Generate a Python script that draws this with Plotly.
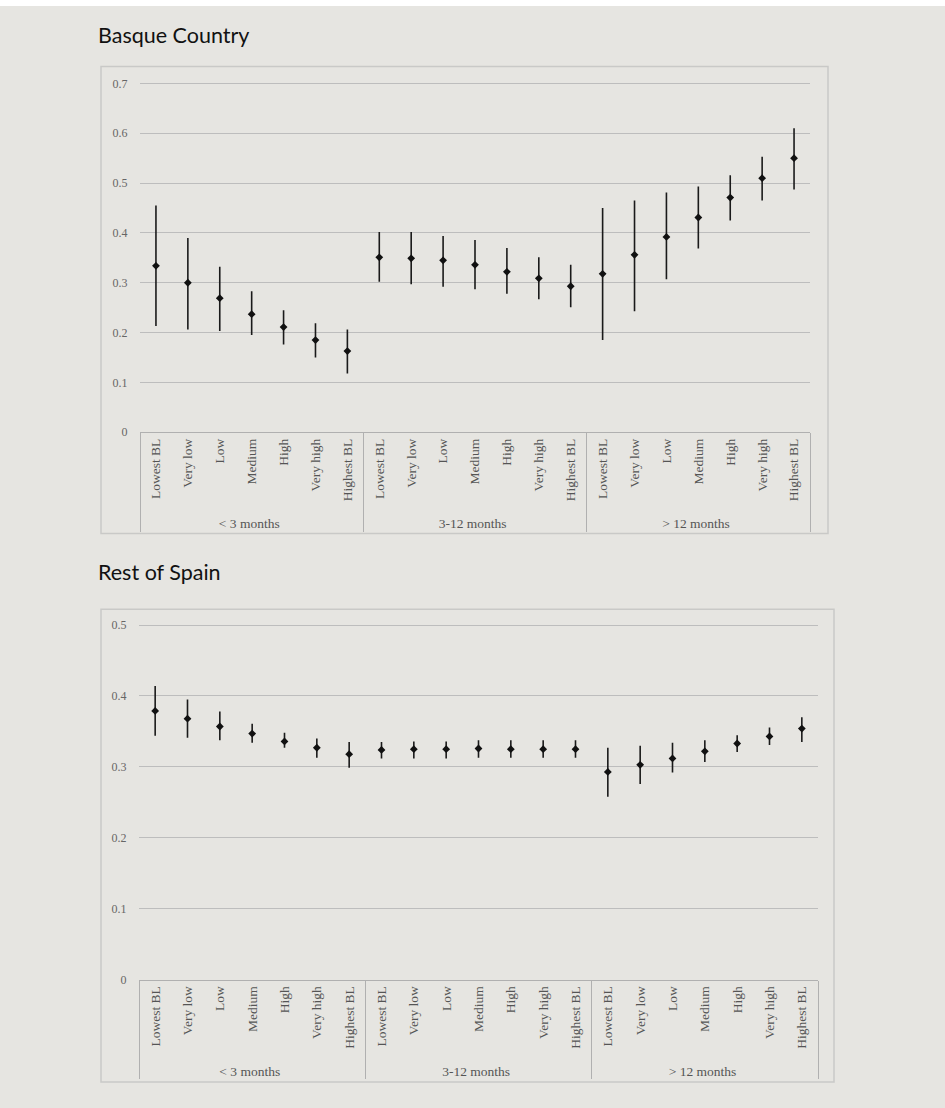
import plotly.graph_objects as go

groups = ["< 3 months", "3-12 months", "> 12 months"]
levels = ["Lowest BL", "Very low", "Low", "Medium", "High", "Very high", "Highest BL"]

# Basque Country: point estimates and 95% CI bounds
basque_est = [0.334, 0.300, 0.269, 0.237, 0.211, 0.185, 0.163,
              0.351, 0.349, 0.345, 0.336, 0.322, 0.309, 0.293,
              0.318, 0.356, 0.392, 0.431, 0.471, 0.510, 0.550]
basque_hi = [0.455, 0.390, 0.332, 0.283, 0.245, 0.219, 0.206,
             0.402, 0.402, 0.394, 0.386, 0.370, 0.351, 0.336,
             0.450, 0.465, 0.481, 0.493, 0.516, 0.553, 0.610]
basque_lo = [0.213, 0.206, 0.203, 0.195, 0.176, 0.150, 0.118,
             0.302, 0.297, 0.292, 0.287, 0.278, 0.267, 0.251,
             0.185, 0.243, 0.307, 0.369, 0.425, 0.465, 0.487]

# Rest of Spain
spain_est = [0.379, 0.368, 0.357, 0.347, 0.336, 0.327, 0.318,
             0.324, 0.325, 0.325, 0.326, 0.325, 0.325, 0.325,
             0.293, 0.303, 0.312, 0.322, 0.333, 0.343, 0.354]
spain_hi = [0.414, 0.395, 0.378, 0.361, 0.348, 0.340, 0.335,
            0.335, 0.336, 0.336, 0.3375, 0.3375, 0.3375, 0.3375,
            0.327, 0.330, 0.334, 0.3375, 0.3445, 0.3556, 0.370]
spain_lo = [0.344, 0.341, 0.3375, 0.334, 0.327, 0.313, 0.299,
            0.312, 0.312, 0.312, 0.313, 0.313, 0.313, 0.313,
            0.258, 0.276, 0.292, 0.307, 0.321, 0.331, 0.335]

panel_titles = ["Basque Country", "Rest of Spain"]
y_max_tick = [0.7, 0.5]

W, H = 945, 1108
BG = "#e6e5e1"
GRID = "#bdbdbd"
SERIF = "Liberation Serif, Times New Roman, serif"

x_groups = [g for g in groups for _ in levels]
x_levels = [lv for _ in groups for lv in levels]
n_cat = len(x_levels)


def px_x(v):
    return v / W


def px_y(v):
    return 1 - v / H


# pixel layout: (zero line px, top tick px) per panel; range extended a bit
# beyond the top tick so that its grid line is drawn
PAD = 0.02
y0_px = [435, 986]
ytop_px = [84, 629]
y_domains, y_ranges = [], []
for z, t, m in zip(y0_px, ytop_px, y_max_tick):
    scale = (z - t) / m
    top = m + PAD
    y_ranges.append([0, top])
    y_domains.append([px_y(z), px_y(z - top * scale)])

fig = go.Figure()

panels = [
    (basque_est, basque_hi, basque_lo, "x", "y"),
    (spain_est, spain_hi, spain_lo, "x2", "y2"),
]
for est, hi, lo, xa, ya in panels:
    fig.add_trace(go.Scatter(
        x=[x_groups, x_levels], y=est, mode="markers",
        marker=dict(symbol="diamond", size=6, color="#111111"),
        error_y=dict(type="data", symmetric=False,
                     array=[h - e for h, e in zip(hi, est)],
                     arrayminus=[e - l for e, l in zip(est, lo)],
                     color="#1a1a1a", thickness=1.6, width=0),
        xaxis=xa, yaxis=ya, showlegend=False, hoverinfo="skip"))

xaxis_common = dict(
    type="multicategory", tickangle=-90, showgrid=False,
    range=[-0.5, n_cat - 0.5], autorange=False,
    showline=True, linecolor="#b0b0b0", linewidth=1,
    showdividers=True, dividercolor="#b0b0b0", dividerwidth=1,
    tickfont=dict(family=SERIF, size=13.5, color="#555555"),
    ticks="", fixedrange=True,
)
yaxis_common = dict(
    dtick=0.1, showgrid=True, gridcolor=GRID, gridwidth=1,
    zeroline=False, showline=False,
    ticks="outside", ticklen=9, tickcolor="rgba(0,0,0,0)",
    tickfont=dict(family=SERIF, size=12, color="#666666"),
    fixedrange=True,
)

fig.update_layout(
    width=W, height=H, margin=dict(l=0, r=0, t=0, b=0),
    paper_bgcolor=BG, plot_bgcolor="rgba(0,0,0,0)",
    xaxis=dict(domain=[px_x(140), px_x(810)], anchor="y", **xaxis_common),
    yaxis=dict(domain=y_domains[0], range=y_ranges[0], anchor="x", **yaxis_common),
    xaxis2=dict(domain=[px_x(139), px_x(818)], anchor="y2", **xaxis_common),
    yaxis2=dict(domain=y_domains[1], range=y_ranges[1], anchor="x2", **yaxis_common),
)

shapes = [
    dict(type="rect", xref="paper", yref="paper", x0=0, x1=1, y0=px_y(6), y1=1,
         fillcolor="white", line=dict(width=0), layer="above"),
    dict(type="rect", xref="paper", yref="paper", x0=px_x(101), x1=px_x(828),
         y0=px_y(537), y1=px_y(67), line=dict(color="#c9c9c7", width=1.5),
         fillcolor="rgba(0,0,0,0)", layer="below"),
    dict(type="rect", xref="paper", yref="paper", x0=px_x(101), x1=px_x(834),
         y0=px_y(1089), y1=px_y(613), line=dict(color="#c9c9c7", width=1.5),
         fillcolor="rgba(0,0,0,0)", layer="below"),
]
fig.update_layout(shapes=shapes)

for title, ypix in zip(panel_titles, [35, 576]):
    fig.add_annotation(text=title, xref="paper", yref="paper",
                       x=px_x(96), y=px_y(ypix), xanchor="left", yanchor="middle",
                       showarrow=False,
                       font=dict(family="Lato, sans-serif", size=21.5, color="#111111"))

fig.write_html("out.html")
